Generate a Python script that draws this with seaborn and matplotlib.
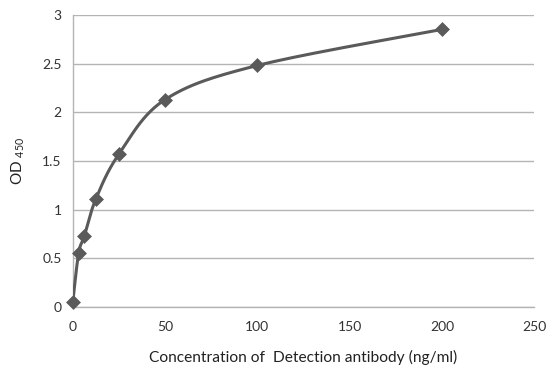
import numpy as np
import pandas as pd
import seaborn as sns
import matplotlib.pyplot as plt

# 检测抗体浓度 (ng/ml) 与 OD450 读数
concentration = [0, 3.125, 6.25, 12.5, 25, 50, 100, 200]
od450 = [0.05, 0.55, 0.73, 1.11, 1.57, 2.13, 2.48, 2.85]
x_ticks = [0, 50, 100, 150, 200, 250]
y_ticks = [0, 0.5, 1, 1.5, 2, 2.5, 3]

GRAY = '#5a5a5a'
GRID = '#b4b4b4'


def smooth_curve(x, y, x_span, y_span, n=30):
    """Excel-like smoothed line: Catmull-Rom through the points in normalised space."""
    px = np.asarray(x, float) / x_span
    py = np.asarray(y, float) / y_span
    pts = np.column_stack([px, py])
    ext = np.vstack([pts[0], pts, pts[-1]])
    out = []
    t = np.linspace(0, 1, n)[:, None]
    for i in range(1, len(ext) - 2):
        p0, p1, p2, p3 = ext[i - 1], ext[i], ext[i + 1], ext[i + 2]
        c1 = p1 + (p2 - p0) / 6
        c2 = p2 - (p3 - p1) / 6
        seg = ((1 - t) ** 3) * p1 + 3 * ((1 - t) ** 2) * t * c1 + 3 * (1 - t) * t ** 2 * c2 + t ** 3 * p2
        out.append(seg if i == 1 else seg[1:])
    out = np.vstack(out)
    return out[:, 0] * x_span, out[:, 1] * y_span


sns.set_style('white')
plt.rcParams['font.family'] = ['Lato', 'DejaVu Sans']
plt.rcParams['mathtext.default'] = 'regular'

fig = plt.figure(figsize=(5.6, 3.8), dpi=100)
ax = fig.add_axes([0.130, 0.192, 0.824, 0.769])

sx, sy = smooth_curve(concentration, od450, 250, 3 * 0.769 * 3.8 / (0.824 * 5.6))
curve = pd.DataFrame({'conc': sx, 'od': sy})
sns.lineplot(data=curve, x='conc', y='od', ax=ax, color=GRAY, linewidth=2.2,
             sort=False, estimator=None, zorder=3)
pts = pd.DataFrame({'conc': concentration, 'od': od450})
sns.scatterplot(data=pts, x='conc', y='od', ax=ax, marker='D', s=50, color=GRAY,
                edgecolor=GRAY, linewidth=0.5, zorder=4, clip_on=False)

ax.set_xlim(0, 250)
ax.set_ylim(0, 3)
ax.set_xticks(x_ticks)
ax.set_yticks(y_ticks)
ax.set_yticklabels(['0', '0.5', '1', '1.5', '2', '2.5', '3'])
ax.yaxis.grid(True, color=GRID, linewidth=1.0)
ax.set_axisbelow(True)

for side in ['top', 'right']:
    ax.spines[side].set_visible(False)
for side in ['left', 'bottom']:
    ax.spines[side].set_color(GRID)
    ax.spines[side].set_linewidth(1.0)

ax.tick_params(axis='both', which='both', direction='out', length=4, width=1.0,
               color=GRID, labelsize=10, labelcolor='#333333', pad=4)
ax.tick_params(axis='x', pad=6)

ax.set_xlabel('Concentration of  Detection antibody (ng/ml)', fontsize=11.2,
              color='#222222', labelpad=12)
ax.set_ylabel('OD $_{450}$', fontsize=11, color='#222222', labelpad=11)

fig.savefig('out.png', dpi=100)
